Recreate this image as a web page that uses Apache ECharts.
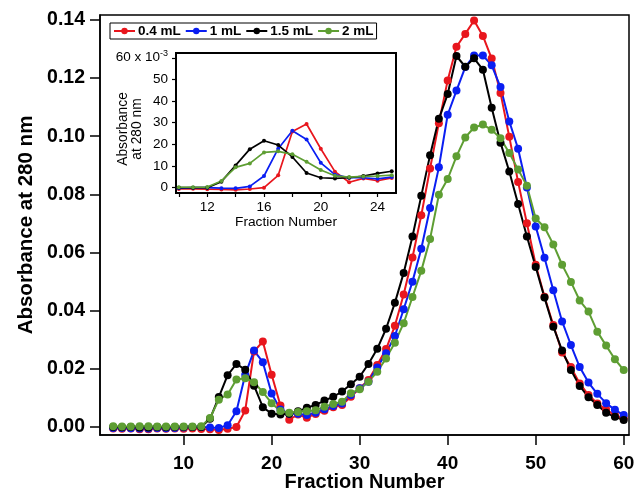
<!DOCTYPE html>
<html><head><meta charset="utf-8">
<script src="https://cdn.jsdelivr.net/npm/echarts@6/dist/echarts.min.js"></script>
<style>html,body{margin:0;padding:0;background:#fff}#c{width:636px;height:492px}</style>
</head><body><div id="c"></div>
<script>
const fractions = [2,3,4,5,6,7,8,9,10,11,12,13,14,15,16,17,18,19,20,21,22,23,24,25,26,27,28,29,30,31,32,33,34,35,36,37,38,39,40,41,42,43,44,45,46,47,48,49,50,51,52,53,54,55,56,57,58,59,60];
const seriesNames = ['0.4 mL', '1 mL', '1.5 mL', '2 mL'];
const abs04 = [-0.0005,-0.0006,-0.0005,-0.0008,-0.0008,-0.0005,-0.0006,-0.0005,-0.0006,-0.0005,-0.0007,-0.0008,-0.0010,-0.0006,0.0000,0.0057,0.0260,0.0294,0.0180,0.0074,0.0025,0.0043,0.0032,0.0045,0.0056,0.0068,0.0076,0.0104,0.0133,0.0162,0.0213,0.0268,0.0348,0.0456,0.0583,0.0728,0.0889,0.1045,0.1192,0.1308,0.1352,0.1398,0.1345,0.1267,0.1149,0.0998,0.0843,0.0701,0.0558,0.0448,0.0351,0.0256,0.0206,0.0150,0.0110,0.0081,0.0060,0.0041,0.0030];
const abs1 = [-0.0003,-0.0003,-0.0004,-0.0005,-0.0005,-0.0003,-0.0004,-0.0003,-0.0002,0.0000,0.0000,-0.0002,-0.0003,0.0006,0.0054,0.0180,0.0263,0.0223,0.0115,0.0060,0.0046,0.0046,0.0041,0.0049,0.0061,0.0072,0.0081,0.0110,0.0133,0.0156,0.0205,0.0254,0.0313,0.0405,0.0500,0.0613,0.0753,0.0893,0.1074,0.1157,0.1238,0.1278,0.1278,0.1244,0.1169,0.1051,0.0957,0.0824,0.0690,0.0582,0.0470,0.0363,0.0282,0.0206,0.0153,0.0114,0.0082,0.0059,0.0041];
const abs15 = [0.0000,-0.0001,0.0000,-0.0002,-0.0002,0.0000,-0.0001,0.0000,0.0000,0.0000,0.0000,0.0028,0.0103,0.0178,0.0217,0.0197,0.0142,0.0068,0.0046,0.0043,0.0046,0.0054,0.0066,0.0076,0.0091,0.0104,0.0122,0.0147,0.0173,0.0217,0.0269,0.0338,0.0427,0.0530,0.0655,0.0795,0.0935,0.1060,0.1145,0.1276,0.1239,0.1268,0.1229,0.1098,0.0978,0.0879,0.0767,0.0655,0.0550,0.0445,0.0345,0.0263,0.0196,0.0141,0.0102,0.0076,0.0049,0.0035,0.0024];
const abs2 = [0.0003,0.0002,0.0002,0.0003,0.0003,0.0002,0.0002,0.0002,0.0002,0.0002,0.0003,0.0031,0.0094,0.0112,0.0163,0.0168,0.0154,0.0120,0.0082,0.0055,0.0049,0.0052,0.0054,0.0058,0.0070,0.0079,0.0087,0.0116,0.0130,0.0156,0.0190,0.0236,0.0290,0.0357,0.0447,0.0537,0.0647,0.0799,0.0853,0.0931,0.0996,0.1030,0.1040,0.1022,0.0993,0.0942,0.0886,0.0830,0.0717,0.0687,0.0628,0.0558,0.0499,0.0435,0.0397,0.0328,0.0280,0.0233,0.0196];
const mainXTicks = [10,20,30,40,50,60];
const mainYTicks = [0,0.02,0.04,0.06,0.08,0.10,0.12,0.14];
const insetXTicks = [10,12,14,16,18,20,22,24];
const insetXLabels = [12,16,20,24];
const insetYTicks = [0,10,20,30,40,50,60];
const insetFrom = 10, insetTo = 25;

const colors = ['#e8161d', '#0a1ef2', '#000000', '#5e9e33'];
const allData = [abs04, abs1, abs15, abs2];
const FONT = '"Liberation Sans", Arial, Helvetica, sans-serif';

const series = [];
allData.forEach((arr, i) => {
  series.push({
    name: seriesNames[i], type: 'line', xAxisIndex: 0, yAxisIndex: 0,
    data: fractions.map((f, k) => [f, arr[k]]),
    symbol: 'circle', symbolSize: 8, showSymbol: true,
    lineStyle: {color: colors[i], width: 2}, itemStyle: {color: colors[i]},
    z: 3
  });
});
allData.forEach((arr, i) => {
  const d = [];
  fractions.forEach((f, k) => { if (f >= insetFrom && f <= insetTo) d.push([f, arr[k] * 1000]); });
  series.push({
    name: seriesNames[i], type: 'line', xAxisIndex: 1, yAxisIndex: 1,
    data: d, symbol: 'circle', symbolSize: 4, showSymbol: true,
    lineStyle: {color: colors[i], width: 1.7}, itemStyle: {color: colors[i]},
    z: 5
  });
});

const chart = echarts.init(document.getElementById('c'), null, {renderer: 'canvas'});
chart.setOption({
  animation: false,
  backgroundColor: '#fff',
  textStyle: {fontFamily: FONT},
  legend: {
    data: seriesNames, left: 110, top: 23, orient: 'horizontal',
    itemWidth: 21, itemHeight: 8, itemGap: 4,
    padding: [1, 3, 1, 3], borderColor: '#000', borderWidth: 1, backgroundColor: '#fff',
    textStyle: {fontFamily: FONT, fontWeight: 'bold', fontSize: 13.5, color: '#000', padding: [0, 0, 0, -2]},
    z: 10
  },
  grid: [
    {left: 100, top: 15, right: 7, bottom: 57, show: true, borderColor: '#000', borderWidth: 1.5, backgroundColor: 'transparent', containLabel: false, outerBoundsMode: 'none'},
    {left: 176, top: 53, right: 240, bottom: 299, show: true, borderColor: '#000', borderWidth: 2, backgroundColor: '#fff', z: 4, containLabel: false, outerBoundsMode: 'none'}
  ],
  xAxis: [
    {type: 'value', gridIndex: 0, min: 0.5, max: 60.6,
     axisLine: {show: true, onZero: false, lineStyle: {color: '#000', width: 1.5}},
     axisTick: {show: true, inside: false, length: 10, lineStyle: {color: '#000', width: 1.5}, customValues: mainXTicks},
     axisLabel: {customValues: mainXTicks, margin: 19, fontFamily: FONT, fontWeight: 'bold', fontSize: 19, color: '#000'},
     splitLine: {show: false},
     name: 'Fraction Number', nameLocation: 'middle', nameGap: 47, nameMoveOverlap: false,
     nameTextStyle: {fontFamily: FONT, fontWeight: 'bold', fontSize: 20, color: '#000', verticalAlign: 'middle'}},
    {type: 'value', gridIndex: 1, min: 9.8, max: 25.3,
     axisLine: {show: true, onZero: false, lineStyle: {color: '#000', width: 2}},
     axisTick: {show: true, inside: false, length: 4, lineStyle: {color: '#000', width: 1.2}, customValues: insetXTicks},
     axisLabel: {customValues: insetXLabels, margin: 7, fontFamily: FONT, fontSize: 13.5, color: '#000'},
     splitLine: {show: false},
     name: 'Fraction Number', nameLocation: 'middle', nameGap: 29, nameMoveOverlap: false,
     nameTextStyle: {fontFamily: FONT, fontSize: 13.7, color: '#000', verticalAlign: 'middle'}}
  ],
  yAxis: [
    {type: 'value', gridIndex: 0, min: -0.00275, max: 0.1417,
     axisLine: {show: true, onZero: false, lineStyle: {color: '#000', width: 1.5}},
     axisTick: {show: true, inside: false, length: 10, lineStyle: {color: '#000', width: 1.5}, customValues: mainYTicks},
     axisLabel: {customValues: mainYTicks, margin: 15, fontFamily: FONT, fontWeight: 'bold', fontSize: 19.5, color: '#000',
       formatter: v => v.toFixed(2)},
     splitLine: {show: false},
     name: 'Absorbance at 280 nm', nameLocation: 'middle', nameGap: 74, nameMoveOverlap: false,
     nameTextStyle: {fontFamily: FONT, fontWeight: 'bold', fontSize: 20.5, color: '#000', verticalAlign: 'middle'}},
    {type: 'value', gridIndex: 1, min: -2.45, max: 62.2,
     axisLine: {show: true, onZero: false, lineStyle: {color: '#000', width: 2}},
     axisTick: {show: true, inside: false, length: 4, lineStyle: {color: '#000', width: 1.2}, customValues: insetYTicks},
     axisLabel: {customValues: insetYTicks, margin: 8, fontFamily: FONT, fontSize: 13.5, color: '#000',
       formatter: v => v === 60 ? '{a|60 x 10}{s|-3}' : String(v),
       rich: {a: {fontFamily: FONT, fontSize: 13.5, color: '#000'},
              s: {fontFamily: FONT, fontSize: 9, color: '#000', verticalAlign: 'top', padding: [0, 0, 8, 0]}}},
     splitLine: {show: false},
     name: 'Absorbance\nat 280 nm', nameLocation: 'middle', nameGap: 46, nameMoveOverlap: false,
     nameTextStyle: {fontFamily: FONT, fontSize: 13.8, color: '#000', lineHeight: 14, align: 'center', verticalAlign: 'middle', padding: [0, 12, 0, 0]}}
  ],
  series: series
});
</script></body></html>
